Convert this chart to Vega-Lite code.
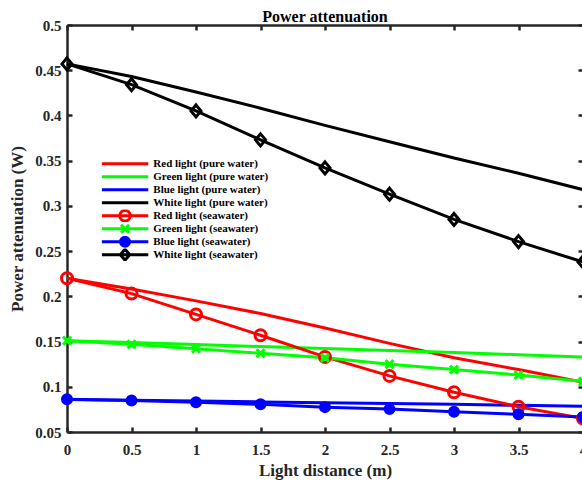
{
  "$schema": "https://vega.github.io/schema/vega-lite/v6.json",
  "autosize": "none",
  "width": 516,
  "height": 407,
  "padding": {"left": 67, "top": 25, "right": 0, "bottom": 50},
  "background": "white",
  "config": {
    "font": "Liberation Serif",
    "view": {"stroke": null},
    "axis": {"grid": false, "domainColor": "#262626", "domainWidth": 2.5, "tickColor": "#262626", "tickWidth": 2.5, "tickSize": -5, "labelFont": "Liberation Serif", "labelFontWeight": "bold", "labelFontSize": 15, "labelColor": "#262626", "titleFont": "Liberation Serif", "titleFontWeight": "bold", "titleFontSize": 17, "titleColor": "#262626"}
  },
  "title": {"text": "Power attenuation", "font": "Liberation Serif", "fontWeight": "bold", "fontSize": 16, "color": "#000000", "anchor": "middle", "frame": "group", "baseline": "alphabetic", "offset": -20},
  "data": {"values": [
    {"series": "Red light (pure water)", "d": 0, "p": 0.220},
    {"series": "Red light (pure water)", "d": 0.5, "p": 0.208},
    {"series": "Red light (pure water)", "d": 1, "p": 0.195},
    {"series": "Red light (pure water)", "d": 1.5, "p": 0.181},
    {"series": "Red light (pure water)", "d": 2, "p": 0.165},
    {"series": "Red light (pure water)", "d": 2.5, "p": 0.148},
    {"series": "Red light (pure water)", "d": 3, "p": 0.132},
    {"series": "Red light (pure water)", "d": 3.5, "p": 0.119},
    {"series": "Red light (pure water)", "d": 4, "p": 0.105},
    {"series": "Green light (pure water)", "d": 0, "p": 0.151},
    {"series": "Green light (pure water)", "d": 0.5, "p": 0.149},
    {"series": "Green light (pure water)", "d": 1, "p": 0.1468},
    {"series": "Green light (pure water)", "d": 1.5, "p": 0.1445},
    {"series": "Green light (pure water)", "d": 2, "p": 0.1423},
    {"series": "Green light (pure water)", "d": 2.5, "p": 0.140},
    {"series": "Green light (pure water)", "d": 3, "p": 0.1378},
    {"series": "Green light (pure water)", "d": 3.5, "p": 0.1355},
    {"series": "Green light (pure water)", "d": 4, "p": 0.133},
    {"series": "Blue light (pure water)", "d": 0, "p": 0.086},
    {"series": "Blue light (pure water)", "d": 0.5, "p": 0.085},
    {"series": "Blue light (pure water)", "d": 1, "p": 0.0842},
    {"series": "Blue light (pure water)", "d": 1.5, "p": 0.0833},
    {"series": "Blue light (pure water)", "d": 2, "p": 0.0824},
    {"series": "Blue light (pure water)", "d": 2.5, "p": 0.0815},
    {"series": "Blue light (pure water)", "d": 3, "p": 0.0806},
    {"series": "Blue light (pure water)", "d": 3.5, "p": 0.0795},
    {"series": "Blue light (pure water)", "d": 4, "p": 0.0785},
    {"series": "White light (pure water)", "d": 0, "p": 0.457},
    {"series": "White light (pure water)", "d": 0.5, "p": 0.443},
    {"series": "White light (pure water)", "d": 1, "p": 0.426},
    {"series": "White light (pure water)", "d": 1.5, "p": 0.408},
    {"series": "White light (pure water)", "d": 2, "p": 0.389},
    {"series": "White light (pure water)", "d": 2.5, "p": 0.371},
    {"series": "White light (pure water)", "d": 3, "p": 0.353},
    {"series": "White light (pure water)", "d": 3.5, "p": 0.336},
    {"series": "White light (pure water)", "d": 4, "p": 0.318},
    {"series": "Red light (seawater)", "d": 0, "p": 0.220},
    {"series": "Red light (seawater)", "d": 0.5, "p": 0.203},
    {"series": "Red light (seawater)", "d": 1, "p": 0.180},
    {"series": "Red light (seawater)", "d": 1.5, "p": 0.157},
    {"series": "Red light (seawater)", "d": 2, "p": 0.133},
    {"series": "Red light (seawater)", "d": 2.5, "p": 0.112},
    {"series": "Red light (seawater)", "d": 3, "p": 0.094},
    {"series": "Red light (seawater)", "d": 3.5, "p": 0.078},
    {"series": "Red light (seawater)", "d": 4, "p": 0.065},
    {"series": "Green light (seawater)", "d": 0, "p": 0.151},
    {"series": "Green light (seawater)", "d": 0.5, "p": 0.147},
    {"series": "Green light (seawater)", "d": 1, "p": 0.142},
    {"series": "Green light (seawater)", "d": 1.5, "p": 0.137},
    {"series": "Green light (seawater)", "d": 2, "p": 0.132},
    {"series": "Green light (seawater)", "d": 2.5, "p": 0.125},
    {"series": "Green light (seawater)", "d": 3, "p": 0.119},
    {"series": "Green light (seawater)", "d": 3.5, "p": 0.113},
    {"series": "Green light (seawater)", "d": 4, "p": 0.106},
    {"series": "Blue light (seawater)", "d": 0, "p": 0.0862},
    {"series": "Blue light (seawater)", "d": 0.5, "p": 0.0847},
    {"series": "Blue light (seawater)", "d": 1, "p": 0.0829},
    {"series": "Blue light (seawater)", "d": 1.5, "p": 0.0806},
    {"series": "Blue light (seawater)", "d": 2, "p": 0.0775},
    {"series": "Blue light (seawater)", "d": 2.5, "p": 0.0753},
    {"series": "Blue light (seawater)", "d": 3, "p": 0.0725},
    {"series": "Blue light (seawater)", "d": 3.5, "p": 0.0695},
    {"series": "Blue light (seawater)", "d": 4, "p": 0.0665},
    {"series": "White light (seawater)", "d": 0, "p": 0.457},
    {"series": "White light (seawater)", "d": 0.5, "p": 0.434},
    {"series": "White light (seawater)", "d": 1, "p": 0.405},
    {"series": "White light (seawater)", "d": 1.5, "p": 0.373},
    {"series": "White light (seawater)", "d": 2, "p": 0.342},
    {"series": "White light (seawater)", "d": 2.5, "p": 0.313},
    {"series": "White light (seawater)", "d": 3, "p": 0.285},
    {"series": "White light (seawater)", "d": 3.5, "p": 0.2605},
    {"series": "White light (seawater)", "d": 4, "p": 0.238}
  ]},
  "resolve": {"axis": {"x": "independent", "y": "independent"}},
  "layer": [
    {
      "mark": {"type": "line", "strokeWidth": 3, "clip": false},
      "encoding": {
        "x": {"field": "d", "type": "quantitative", "scale": {"domain": [0, 4], "nice": false, "zero": false},
              "axis": {"orient": "bottom", "title": "Light distance (m)", "values": [0, 0.5, 1, 1.5, 2, 2.5, 3, 3.5, 4], "format": "~g", "labelPadding": 15, "titlePadding": 5, "labelFlush": false}},
        "y": {"field": "p", "type": "quantitative", "scale": {"domain": [0.05, 0.5], "nice": false, "zero": false},
              "axis": {"orient": "left", "title": "Power attenuation (W)", "values": [0.05, 0.1, 0.15, 0.2, 0.25, 0.3, 0.35, 0.4, 0.45, 0.5], "format": "~g", "labelPadding": 11, "titlePadding": 8}},
        "stroke": {"field": "series", "type": "nominal",
          "scale": {"domain": ["Red light (pure water)", "Green light (pure water)", "Blue light (pure water)", "White light (pure water)", "Red light (seawater)", "Green light (seawater)", "Blue light (seawater)", "White light (seawater)"],
                    "range": ["#ff0000", "#00ff00", "#0000ff", "#000000", "#ff0000", "#00ff00", "#0000ff", "#000000"]},
          "legend": {"title": null, "orient": "none", "legendX": 34.7, "legendY": 132.5, "padding": 0, "rowPadding": 0, "clipHeight": 12.4, "symbolSize": 100, "symbolOffset": 16.8, "symbolStrokeWidth": 3, "labelOffset": 21.8, "labelFont": "Liberation Serif", "labelFontWeight": "bold", "labelFontSize": 11, "labelColor": "#000000", "labelLimit": 300,
            "encode": {"symbols": {"update": {
              "shape": {"signal": "datum.value == 'Red light (seawater)' ? 'M-4.66,0H4.66M1.05,0A1.05,1.05,0,1,1,-1.05,0A1.05,1.05,0,1,1,1.05,0Z' : datum.value == 'Green light (seawater)' ? 'M-4.66,0H4.66M-0.8,-0.8L0.8,0.8M-0.8,0.8L0.8,-0.8' : datum.value == 'Blue light (seawater)' ? 'M-4.66,0H4.66M0.9,0A0.9,0.9,0,1,1,-0.9,0A0.9,0.9,0,1,1,0.9,0Z' : datum.value == 'White light (seawater)' ? 'M-4.66,0H4.66M0,-1.1L0.95,0L0,1.1L-0.95,0Z' : 'M-4.66,0H4.66'"},
              "fill": {"signal": "datum.value == 'Blue light (seawater)' ? '#0000ff' : 'transparent'"},
              "strokeWidth": {"value": 3},
              "opacity": {"value": 1}
            }}}}
        }
      }
    },
    {
      "transform": [{"filter": "indexof(datum.series, 'seawater') >= 0"}],
      "mark": {"type": "point", "filled": false, "strokeWidth": 3, "size": 100, "opacity": 1, "clip": false},
      "encoding": {
        "x": {"field": "d", "type": "quantitative", "scale": {"domain": [0, 4], "nice": false, "zero": false},
              "axis": {"orient": "top", "labels": false, "title": null, "values": [0, 0.5, 1, 1.5, 2, 2.5, 3, 3.5, 4]}},
        "y": {"field": "p", "type": "quantitative", "scale": {"domain": [0.05, 0.5], "nice": false, "zero": false},
              "axis": {"orient": "right", "labels": false, "title": null, "values": [0.05, 0.1, 0.15, 0.2, 0.25, 0.3, 0.35, 0.4, 0.45, 0.5]}},
        "color": {"field": "series", "type": "nominal", "legend": null,
          "scale": {"domain": ["Red light (seawater)", "Green light (seawater)", "Blue light (seawater)", "White light (seawater)"], "range": ["#ff0000", "#00ff00", "#0000ff", "#000000"]}},
        "fill": {"field": "series", "type": "nominal", "legend": null,
          "scale": {"domain": ["Red light (seawater)", "Green light (seawater)", "Blue light (seawater)", "White light (seawater)"], "range": ["transparent", "transparent", "#0000ff", "transparent"]}},
        "shape": {"field": "series", "type": "nominal", "legend": null,
          "scale": {"domain": ["Red light (seawater)", "Green light (seawater)", "Blue light (seawater)", "White light (seawater)"],
                    "range": ["M1.1,0A1.1,1.1,0,1,1,-1.1,0A1.1,1.1,0,1,1,1.1,0Z", "M-0.8,-0.8L0.8,0.8M-0.8,0.8L0.8,-0.8", "M0.9,0A0.9,0.9,0,1,1,-0.9,0A0.9,0.9,0,1,1,0.9,0Z", "M0,-1.2L1,0L0,1.2L-1,0Z"]}}
      }
    }
  ]
}
